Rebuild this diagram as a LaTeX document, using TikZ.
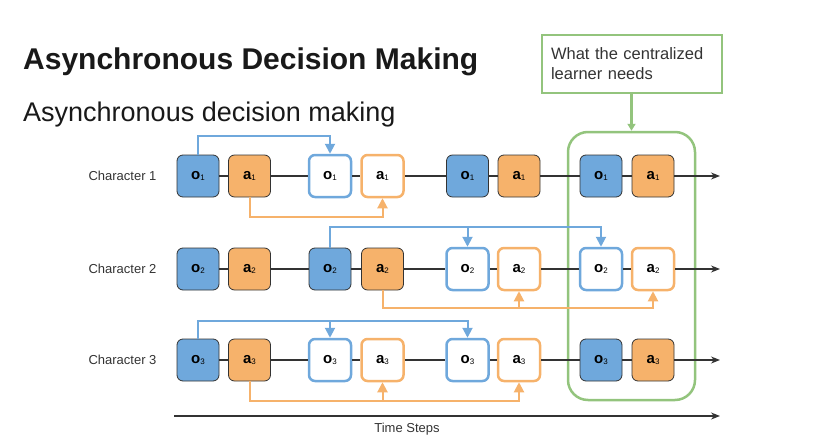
\documentclass[tikz,border=0pt]{standalone}
\usepackage{fontspec}
\setmainfont{Liberation Sans}
\usetikzlibrary{arrows.meta}
\definecolor{blueF}{HTML}{6FA8DC}
\definecolor{orangeF}{HTML}{F6B26B}
\definecolor{greenC}{HTML}{93C47D}
\definecolor{darkL}{HTML}{333333}
\newcommand{\lbl}[2]{\textbf{#1}\raisebox{-0.3pt}{\fontsize{8}{8}\selectfont #2}}
\tikzset{
  boxbase/.style={rounded corners=6pt, minimum width=42pt, minimum height=42pt, inner sep=0pt, font=\fontsize{15}{15}\selectfont},
  ofilled/.style={boxbase, draw=darkL, line width=0.8pt, fill=blueF},
  afilled/.style={boxbase, draw=darkL, line width=0.8pt, fill=orangeF},
  oline/.style={boxbase, draw=blueF, line width=2.5pt, fill=white},
  aline/.style={boxbase, draw=orangeF, line width=2.5pt, fill=white},
  timeline/.style={draw=darkL, line width=1.2pt, -{Stealth[length=9pt,width=7pt]}},
  bconn/.style={draw=blueF, line width=2pt},
  oconn/.style={draw=orangeF, line width=2pt},
  btip/.style={bconn, -{Triangle[length=10pt,width=10pt]}},
  otip/.style={oconn, -{Triangle[length=10pt,width=10pt]}},
  charlbl/.style={anchor=east, font=\fontsize{13}{13}\selectfont, text=darkL},
}
\begin{document}
\begin{tikzpicture}[x=1pt, y=-1pt]
\useasboundingbox (0,0) rectangle (814,439);

% titles
\node[anchor=base west, inner sep=0pt, font=\fontsize{30}{30}\selectfont\bfseries, text=black!90] (title) at (23,69) {Asynchronous Decision Making};
\node[anchor=base west, inner sep=0pt, font=\fontsize{27}{27}\selectfont, text=black!90] (subtitle) at (23,121) {Asynchronous decision making};

% green group box and callout
\node[draw=greenC, line width=2.5pt, rounded corners=20pt, minimum width=127pt, minimum height=268pt, inner sep=0pt] (grp) at (631.5,266) {};
\node[draw=greenC, line width=2.5pt, minimum width=180pt, minimum height=58pt, text width=162pt, align=left, inner sep=0pt, font=\fontsize{16.5}{20}\selectfont, text=darkL] (callout) at (632,64) {What the centralized\\learner needs};
\draw[draw=greenC, line width=2.5pt, -{Triangle[length=7pt,width=8pt]}] (callout.south -| grp.north) -- (grp.north);

% row labels
\node[charlbl] (c1) at (160,176) {Character 1};
\node[charlbl] (c2) at (160,269) {Character 2};
\node[charlbl] (c3) at (160,360) {Character 3};

% row 1
\node[ofilled] (n11) at (198,176) {\lbl{o}{1}};
\node[afilled] (n12) at (249.5,176) {\lbl{a}{1}};
\node[oline]   (n13) at (330,176) {\lbl{o}{1}};
\node[aline]   (n14) at (382.5,176) {\lbl{a}{1}};
\node[ofilled] (n15) at (467.5,176) {\lbl{o}{1}};
\node[afilled] (n16) at (519,176) {\lbl{a}{1}};
\node[ofilled] (n17) at (601,176) {\lbl{o}{1}};
\node[afilled] (n18) at (653,176) {\lbl{a}{1}};
\coordinate (e1) at (720,176);

% row 2
\node[ofilled] (n21) at (198,269) {\lbl{o}{2}};
\node[afilled] (n22) at (249.5,269) {\lbl{a}{2}};
\node[ofilled] (n23) at (330,269) {\lbl{o}{2}};
\node[afilled] (n24) at (382.5,269) {\lbl{a}{2}};
\node[oline]   (n25) at (467.5,269) {\lbl{o}{2}};
\node[aline]   (n26) at (519,269) {\lbl{a}{2}};
\node[oline]   (n27) at (601,269) {\lbl{o}{2}};
\node[aline]   (n28) at (653,269) {\lbl{a}{2}};
\coordinate (e2) at (720,269);

% row 3
\node[ofilled] (n31) at (198,360) {\lbl{o}{3}};
\node[afilled] (n32) at (249.5,360) {\lbl{a}{3}};
\node[oline]   (n33) at (330,360) {\lbl{o}{3}};
\node[aline]   (n34) at (382.5,360) {\lbl{a}{3}};
\node[oline]   (n35) at (467.5,360) {\lbl{o}{3}};
\node[aline]   (n36) at (519,360) {\lbl{a}{3}};
\node[ofilled] (n37) at (601,360) {\lbl{o}{3}};
\node[afilled] (n38) at (653,360) {\lbl{a}{3}};
\coordinate (e3) at (720,360);

% timelines
\draw[timeline] (n11) -- (n12) -- (n13) -- (n14) -- (n15) -- (n16) -- (n17) -- (n18) -- (e1);
\draw[timeline] (n21) -- (n22) -- (n23) -- (n24) -- (n25) -- (n26) -- (n27) -- (n28) -- (e2);
\draw[timeline] (n31) -- (n32) -- (n33) -- (n34) -- (n35) -- (n36) -- (n37) -- (n38) -- (e3);

% row 1 connectors
\draw[btip] (n11.north) -- ++(0,-19) -| (n13.north);
\draw[otip] (n12.south) -- ++(0,20) -| (n14.south);

% row 2 connectors
\draw[btip] (n23.north) -- ++(0,-21) coordinate (b2) -| (n27.north);
\draw[btip] (b2 -| n25.north) -- (n25.north);
\draw[otip] (n24.south) -- ++(0,18) coordinate (o2) -| (n28.south);
\draw[otip] (o2 -| n26.south) -- (n26.south);

% row 3 connectors
\draw[btip] (n31.north) -- ++(0,-18) coordinate (b3) -| (n35.north);
\draw[btip] (b3 -| n33.north) -- (n33.north);
\draw[otip] (n32.south) -- ++(0,20) coordinate (o3) -| (n36.south);
\draw[otip] (o3 -| n34.south) -- (n34.south);

% time axis
\coordinate (t0) at (174,416);
\coordinate (t1) at (720,416);
\draw[timeline] (t0) -- (t1);
\node[font=\fontsize{13}{13}\selectfont, text=darkL] (tlabel) at (407,429) {Time Steps};
\end{tikzpicture}
\end{document}
